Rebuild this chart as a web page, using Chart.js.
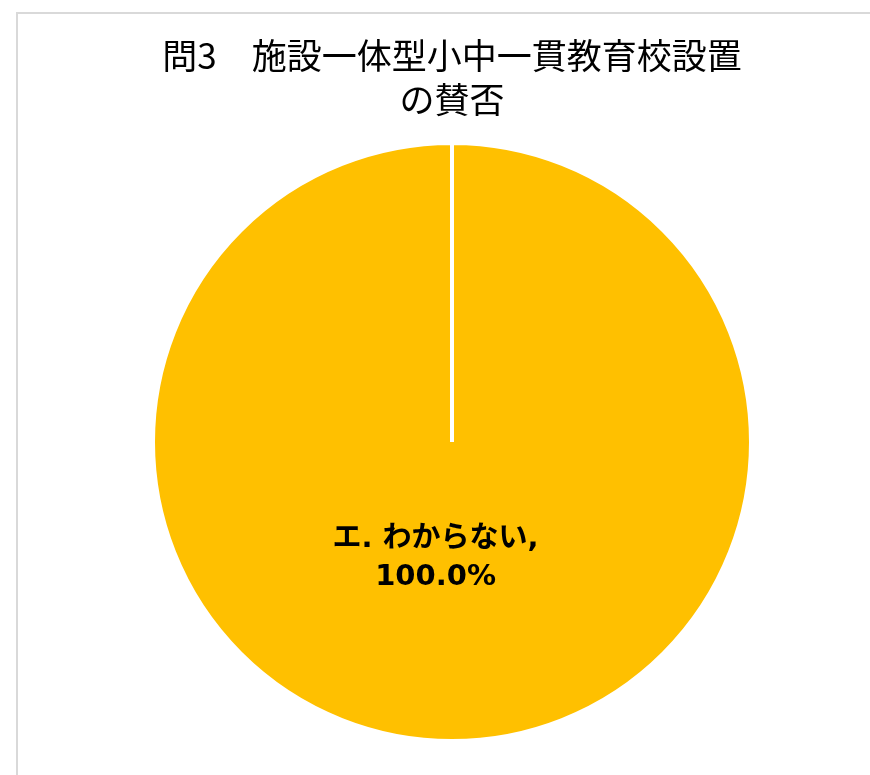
<!DOCTYPE html>
<html>
<head>
<meta charset="utf-8">
<script src="https://cdn.jsdelivr.net/npm/chart.js@4.4.0/dist/chart.umd.min.js"></script>
<style>
  html, body { margin: 0; padding: 0; background: #fff; overflow: hidden; }
  #frame {
    position: absolute; left: 16px; top: 12px; width: 900px; height: 800px;
    border: 2px solid #d9d9d9; box-sizing: border-box;
  }
  #wrap { position: absolute; left: 0; top: 0; width: 870px; height: 775px; }
</style>
</head>
<body>
<div id="frame"></div>
<div id="wrap"><canvas id="chart1"></canvas></div>
<script>
var titleLines = ['問3\u3000施設一体型小中一貫教育校設置', 'の賛否'];
var labels = ['エ. わからない'];
var values = [100.0];
var colors = ['#FFC000'];

// data label drawn inside the single slice, relative to the arc centre
var sliceLabels = {
  id: 'sliceLabels',
  afterDatasetsDraw: function(chart) {
    var ctx = chart.ctx;
    var meta = chart.getDatasetMeta(0);
    var total = values.reduce(function(a, b) { return a + b; }, 0);
    meta.data.forEach(function(arc, i) {
      var pct = (values[i] / total * 100).toFixed(1) + '%';
      var x = arc.x - 0.055 * arc.outerRadius;
      var y = arc.y + 0.39 * arc.outerRadius;
      ctx.save();
      ctx.fillStyle = '#000';
      ctx.font = 'bold 29px "DejaVu Sans", "Noto Sans CJK JP", sans-serif';
      ctx.textAlign = 'center';
      ctx.textBaseline = 'middle';
      ctx.fillText(labels[i] + ',', x, y - 19);
      ctx.fillText(pct, x, y + 19);
      ctx.restore();
    });
  }
};

var ctx = document.getElementById('chart1').getContext('2d');
var myChart = new Chart(ctx, {
  type: 'pie',
  data: {
    labels: labels,
    datasets: [{
      data: values,
      backgroundColor: colors,
      borderColor: '#ffffff',
      borderWidth: 4
    }]
  },
  options: {
    responsive: true,
    maintainAspectRatio: false,
    animation: false,
    layout: { padding: { left: 34, right: 0, top: 0, bottom: 32 } },
    plugins: {
      legend: { display: false },
      tooltip: { enabled: false },
      title: {
        display: true,
        text: titleLines,
        color: '#000',
        font: { family: '"Noto Sans CJK JP", sans-serif', size: 35, weight: 'normal', lineHeight: 1.257 },
        padding: { top: 34, bottom: 19 }
      }
    }
  },
  plugins: [sliceLabels]
});
</script>
</body>
</html>
